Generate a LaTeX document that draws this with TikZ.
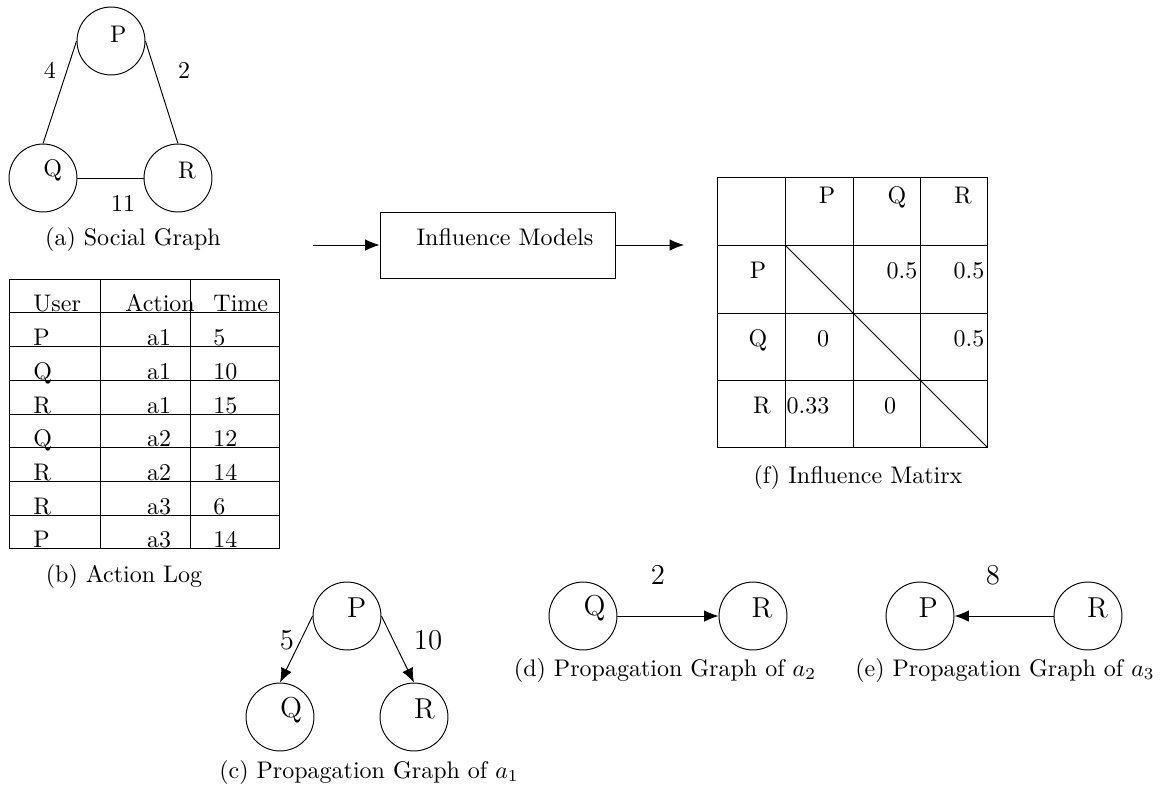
\documentclass[tikz,border=0pt]{standalone}
\usetikzlibrary{arrows.meta}
\begin{document}
\begin{tikzpicture}[x=0.41667pt,y=-0.41667pt,
  vert/.style={circle, draw, minimum size=28.3pt, inner sep=0pt},
  arr/.style={-{Latex[length=6pt,width=4.8pt]}},
  capnode/.style={anchor=base, inner sep=0pt},
  txt/.style={anchor=base, inner sep=0pt},
  txtl/.style={anchor=base west, inner sep=0pt},
  elab/.style={inner sep=0pt},
  bigelab/.style={inner sep=0pt, font=\large}]
\useasboundingbox (0,0) rectangle (1171,795);

% (a) social graph
\node[vert, label={[xshift=3pt,yshift=2.8pt]center:P}] (sp) at (111,41) {};
\node[vert, label={[xshift=4pt,yshift=3.2pt]center:Q}] (sq) at (43,178) {};
\node[vert, label={[xshift=3.7pt,yshift=3.2pt]center:R}] (sr) at (178,178) {};
\draw (sp.west) -- (sq.north);
\draw (sp.east) -- (sr.north);
\draw (sq.east) -- (sr.west);
\node[elab] (w4) at (50,70) {4};
\node[elab] (w2) at (184,70) {2};
\node[elab] (w11) at (123,203) {11};
\node[capnode] (capa) at (133,245) {(a) Social Graph};

% (b) action log
\draw (9,279) rectangle (279,548);
\draw (100,279) -- (100,548);
\draw (190,279) -- (190,548);
\foreach \yy in {312,346.5,380,414,447.5,481.5,515}
  \draw (9,\yy) -- (279,\yy);
\node[txtl] (hu) at (33,311) {User};
\node[txtl] (ha) at (125,311) {Action};
\node[txtl] (ht) at (213,311) {Time};
\foreach \u/\a/\t/\yy [count=\i] in {P/a1/5/345.5, Q/a1/10/379, R/a1/15/413,
    Q/a2/12/446.5, R/a2/14/480.5, R/a3/6/514, P/a3/14/547}{
  \node[txtl] (u\i) at (33,\yy) {\u};
  \node[txt] (a\i) at (159,\yy) {\a};
  \node[txtl] (t\i) at (213,\yy) {\t};
}
\node[capnode] (capb) at (124,582) {(b) Action Log};

% influence models block
\node[draw, minimum width=98.3pt, minimum height=27.5pt, inner sep=0pt,
  label={[xshift=2.9pt,yshift=3.2pt]center:Influence Models}] (im) at (498,245) {};
\coordinate (imin) at (313,245);
\coordinate (imout) at (684,245);
\draw[arr] (imin) -- (im.west);
\draw[arr] (im.east) -- (imout);

% (f) influence matrix
\draw (717,177) rectangle (987,447);
\foreach \xx in {785,853,920} \draw (\xx,177) -- (\xx,447);
\foreach \yy in {245,313,380} \draw (717,\yy) -- (987,\yy);
\draw (785,245) -- (987,447);
\node[txt] (mhp) at (827,203) {P};
\node[txt] (mhq) at (897,203) {Q};
\node[txt] (mhr) at (963,203) {R};
\node[txt] (mrp) at (758,278) {P};
\node[txt] (mrq) at (758,346) {Q};
\node[txt] (mrr) at (762,413) {R};
\node[txt] (mpq) at (902,278) {0.5};
\node[txt] (mpr) at (969,278) {0.5};
\node[txt] (mqp) at (823,346) {0};
\node[txt] (mqr) at (969,346) {0.5};
\node[txt] (mrpv) at (808,413) {0.33};
\node[txt] (mrqv) at (890,413) {0};
\node[capnode] (capf) at (858,483) {(f) Influence Matirx};

% (c) propagation graph of a1
\node[vert, label={[xshift=4pt,yshift=3.6pt,font=\large]center:P}] (cp) at (347,616) {};
\node[vert, label={[xshift=4.6pt,yshift=3pt,font=\large]center:Q}] (cq) at (280,717) {};
\node[vert, label={[xshift=4.4pt,yshift=3.3pt,font=\large]center:R}] (cr) at (414,717) {};
\draw[arr] (cp.west) -- (cq.north);
\draw[arr] (cp.east) -- (cr.north);
\node[bigelab] (w5) at (287,640) {5};
\node[bigelab] (w10) at (428,640) {10};
\node[capnode] (capc) at (369,778) {(c) Propagation Graph of $a_1$};

% (d) propagation graph of a2
\node[vert, label={[xshift=4.8pt,yshift=3.3pt,font=\large]center:Q}] (dq) at (583,616) {};
\node[vert, label={[xshift=3.8pt,yshift=3.3pt,font=\large]center:R}] (dr) at (753,616) {};
\draw[arr] (dq.east) -- (dr.west);
\node[bigelab] (wd) at (658,575) {2};
\node[capnode] (capd) at (665,676) {(d) Propagation Graph of $a_2$};

% (e) propagation graph of a3
\node[vert, label={[xshift=3.4pt,yshift=3.6pt,font=\large]center:P}] (ep) at (920,616) {};
\node[vert, label={[xshift=4pt,yshift=3.3pt,font=\large]center:R}] (er) at (1088,616) {};
\draw[arr] (er.west) -- (ep.east);
\node[bigelab] (we) at (993,575) {8};
\node[capnode] (cape) at (1005,676) {(e) Propagation Graph of $a_3$};
\end{tikzpicture}
\end{document}
